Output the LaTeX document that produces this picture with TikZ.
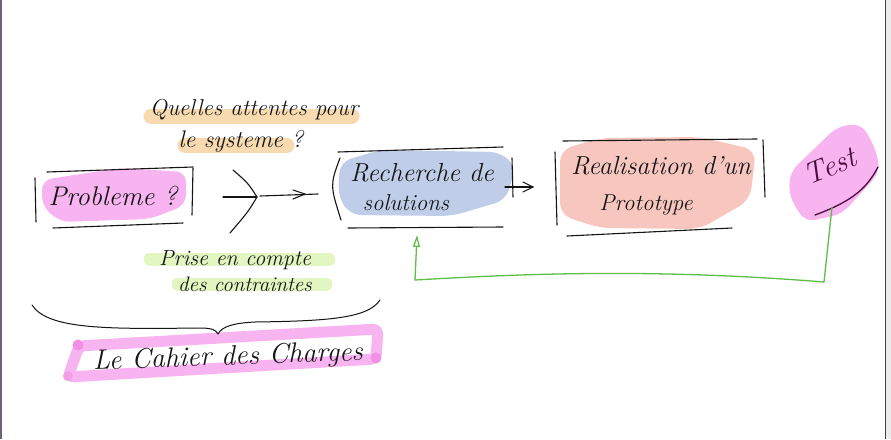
\documentclass[tikz,border=0pt]{standalone}
\usetikzlibrary{arrows.meta}
\definecolor{ink}{HTML}{151515}
\definecolor{testink}{HTML}{4A0E3E}
\definecolor{orangeHL}{HTML}{F7DAB0}
\definecolor{blueHL}{HTML}{BFCDE8}
\definecolor{salmonHL}{HTML}{F7C7BF}
\definecolor{pinkHL}{HTML}{F8B4F0}
\definecolor{pinkDark}{HTML}{F190E4}
\definecolor{greenHL}{HTML}{E1F6C0}
\definecolor{fbgreen}{HTML}{5DBE48}
\definecolor{framegray}{HTML}{6E6470}
\tikzset{
  hand/.style={font=\itshape, text=ink, inner sep=0pt},
  pen/.style={draw=ink, line width=1.1pt, line cap=round, line join=round},
  hlstroke/.style={line width=#1, line cap=round},
}
\begin{document}
\begin{tikzpicture}[x=1pt,y=-1pt]
\useasboundingbox (0,0) rectangle (891,439);
\fill[white] (0,0) rectangle (891,439);
% window frame
\draw[framegray, line width=1.6pt] (1,0) -- (1,439);
\fill[black!8] (885,0) rectangle (891,439);
\draw[black!75, line width=1.4pt] (885.5,0) -- (885.5,439);

% ---------- highlights ----------
\draw[orangeHL, hlstroke=15pt] (151,116) -- (352,116);
\draw[orangeHL, hlstroke=15pt] (185,145) -- (287,145);
\fill[pinkHL, rounded corners=10pt] (42,180) -- (120,168) -- (186,172) -- (186,205) -- (150,219) -- (60,222) -- (42,206) -- cycle;
\fill[blueHL, rounded corners=11pt] (340,162) -- (380,150) -- (500,152) -- (516,166) -- (506,200) -- (452,216) -- (350,215) -- (338,196) -- cycle;
\fill[salmonHL, rounded corners=12pt] (560,150) -- (600,138) -- (700,137) -- (756,150) -- (750,200) -- (700,229) -- (600,228) -- (560,215) -- cycle;
\fill[pinkHL, rounded corners=10pt] (790,172) -- (838,126) -- (862,124) -- (876,150) -- (880,172) -- (842,214) -- (805,222) -- (789,196) -- cycle;
\draw[greenHL, hlstroke=13pt] (150,259) -- (329,259);
\draw[greenHL, hlstroke=13pt] (178,284) -- (326,284);
\draw[pinkHL, line width=11pt, rounded corners=5pt, line join=round] (79,346) -- (378,329) -- (376,359) -- (68,377) -- cycle;
\fill[pinkDark] (78,345) circle (5.5pt);
\fill[pinkDark] (376,358) circle (5.5pt);
\fill[pinkDark!60!pinkHL] (68,376) circle (5pt);

% ---------- texts ----------
\node[hand, font=\itshape\fontsize{23}{26}\selectfont] (q1) at (254,110) {Quelles attentes pour};
\node[hand, font=\itshape\fontsize{24}{27}\selectfont] (q2) at (241,141) {le systeme ?};
\node[hand, font=\itshape\fontsize{27}{30}\selectfont] (prob) at (113,196) {Probleme ?};
\node[hand, font=\itshape\fontsize{26}{29}\selectfont] (rech1) at (422,173) {Recherche de};
\node[hand, font=\itshape\fontsize{23}{26}\selectfont] (rech2) at (406,203) {solutions};
\node[hand, font=\itshape\fontsize{26}{29}\selectfont] (real1) at (661,166) {Realisation d'un};
\node[hand, font=\itshape\fontsize{23}{26}\selectfont] (real2) at (646,205) {Prototype};
\node[hand, text=testink, font=\itshape\fontsize{30}{34}\selectfont, rotate=22] (test) at (830,166) {Test};
\node[hand, font=\itshape\fontsize{22}{25}\selectfont] (pr1) at (235,260) {Prise en compte};
\node[hand, font=\itshape\fontsize{21}{24}\selectfont] (pr2) at (245,284) {des contraintes};
\node[hand, font=\itshape\fontsize{28}{32}\selectfont, rotate=2] (cahier) at (228,358) {Le Cahier des Charges};

% ---------- box strokes ----------
% Probleme
\draw[pen] (35,178) -- (36,222);
\draw[pen] (47,172) -- (193,167);
\draw[pen] (193,168) -- (192,215);
\draw[pen] (53,228) -- (183,223);
% Recherche
\draw[pen] (340,158) .. controls (330,185) .. (341,220);
\draw[pen] (338,152) -- (503,147);
\draw[pen] (348,228) -- (503,227);
\draw[pen] (512,158) -- (513,197);
% Realisation
\draw[pen] (555,152) -- (557,225);
\draw[pen] (563,141) -- (757,139);
\draw[pen] (763,140) -- (765,197);
\draw[pen] (567,236) -- (732,228);
% Test underline
\draw[draw=testink, line width=1.3pt, line cap=round] (815,215) .. controls (850,202) and (866,190) .. (878,167);

% ---------- connectors ----------
\coordinate (merge) at (257,197);
\coordinate (mtop) at (233,170);
\coordinate (mbot) at (230,233);
\coordinate (mleft) at (223,197);
\coordinate (rin) at (318,194);
\draw[pen] (mtop) .. controls (248,183) .. (merge) .. controls (248,212) .. (mbot);
\draw[pen] (mleft) -- (merge);
\draw[pen] (260,196) -- (rin);
\draw[pen] (293,190) -- (305,194) -- (293,199);
% Recherche -> Realisation
\coordinate (rout) at (505,187);
\coordinate (rtip) at (533,187);
\draw[pen] (rout) -- (rtip);
\draw[pen] (523,182) -- (rtip) -- (523,192);
% feedback Test -> Recherche
\coordinate (tbot) at (832,207);
\coordinate (fb1) at (824,282);
\coordinate (fb2) at (415,280);
\coordinate (fbend) at (417,235);
\draw[fbgreen, line width=1.3pt, line join=round, -{Triangle[open, length=12pt, width=7pt]}]
  (tbot) -- (fb1) .. controls (650,268) and (520,274) .. (fb2) -- (fbend);

% brace
\draw[pen, line width=1pt] (32,305) .. controls (48,330) and (110,329) .. (200,328)
  .. controls (212,328) and (216,330) .. (218,334)
  .. controls (222,326) and (235,323) .. (255,322)
  .. controls (330,321) and (368,318) .. (380,300);
\end{tikzpicture}
\end{document}
